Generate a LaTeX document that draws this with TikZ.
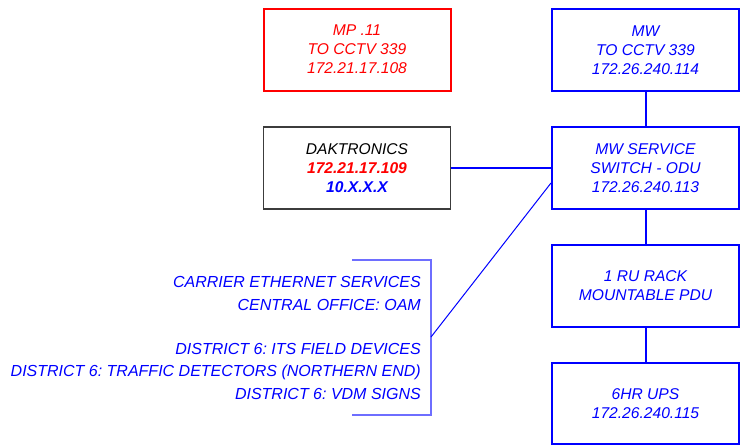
\documentclass[tikz,border=0pt]{standalone}
\usepackage{fontspec}
\setmainfont{Liberation Sans}
\usepackage{tikz}
\usetikzlibrary{positioning,calc}
\usepackage{xcolor}
\definecolor{netblue}{RGB}{0,0,255}
\definecolor{netred}{RGB}{255,0,0}
\definecolor{brkblue}{RGB}{110,110,255}
\definecolor{dakgray}{RGB}{60,60,60}
\frenchspacing

\tikzset{
    devbox/.style={draw=netblue, line width=2pt, text=netblue, minimum width=187pt, minimum height=82pt,
        align=center, font=\fontsize{15.6}{19}\selectfont\itshape, inner sep=0pt},
    link/.style={draw=netblue, line width=2pt}
}

\begin{document}
\begin{tikzpicture}[x=1pt, y=-1pt]
    \useasboundingbox (0,0) rectangle (751,445);

    % left column
    \node[devbox, draw=netred, text=netred] (mp) at (357,49.5) {MP .11\\TO CCTV 339\\172.21.17.108};
    \node[devbox, draw=dakgray, line width=1.5pt, text=black] (dak) at (357,168)
        {DAKTRONICS\\{\color{netred}\bfseries 172.21.17.109}\\{\color{netblue}\bfseries 10.X.X.X}};

    % right column
    \node[devbox] (mw) at (645.5,50) {MW\\TO CCTV 339\\172.26.240.114};
    \node[devbox] (sw) at (645.5,168) {MW SERVICE\\SWITCH - ODU\\172.26.240.113};
    \node[devbox] (pdu) at (645.5,286) {1 RU RACK\\MOUNTABLE PDU};
    \node[devbox, minimum height=81pt] (ups) at (645.5,403.5) {6HR UPS\\172.26.240.115};

    \draw[link] (mw) -- (sw);
    \draw[link] (sw) -- (pdu);
    \draw[link] (pdu) -- (ups);
    \draw[link] (dak) -- (sw);

    % services bracket
    \node[anchor=east, align=right, text=netblue, inner sep=0pt,
        font=\fontsize{16}{22.3}\selectfont\itshape] (svc) at (421,338)
        {CARRIER ETHERNET SERVICES\\CENTRAL OFFICE: OAM\\[22.3pt]
         DISTRICT 6: ITS FIELD DEVICES\\DISTRICT 6: TRAFFIC DETECTORS (NORTHERN END)\\DISTRICT 6: VDM SIGNS};
    \coordinate (brk) at (431,337);
    \draw[brkblue, line width=1.5pt] (352,260) -- (431,260) -- (431,415) -- (352,415);
    \draw[netblue, line width=1pt] (brk) -- ($(sw.west)+(0,15)$);
\end{tikzpicture}
\end{document}
